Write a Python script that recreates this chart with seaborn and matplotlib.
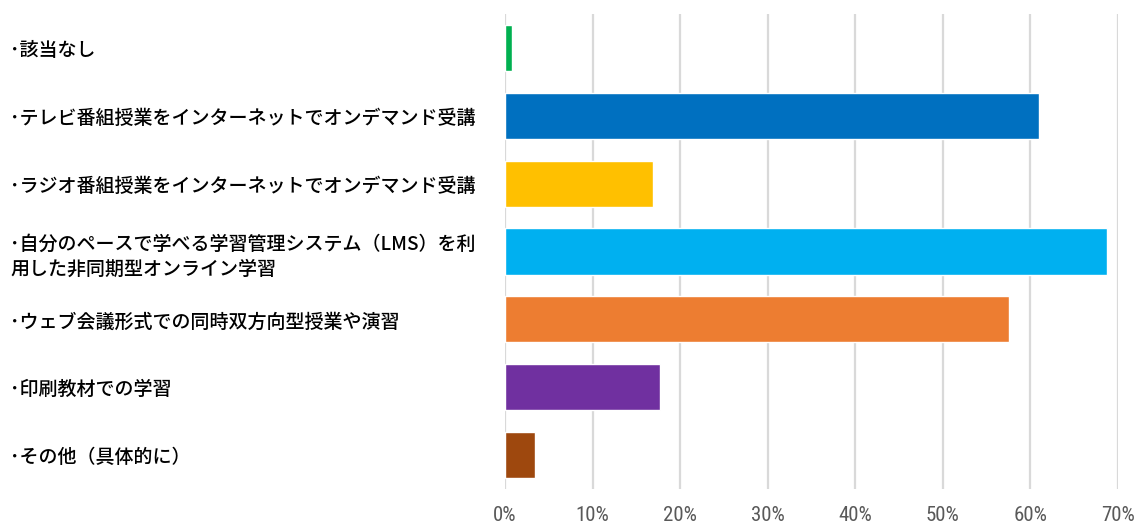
import matplotlib
matplotlib.use("Agg")
import matplotlib.pyplot as plt
import seaborn as sns
import pandas as pd
from matplotlib.ticker import FuncFormatter

categories = [
    "･該当なし",
    "･テレビ番組授業をインターネットでオンデマンド受講",
    "･ラジオ番組授業をインターネットでオンデマンド受講",
    "･自分のペースで学べる学習管理システム（LMS）を利\n用した非同期型オンライン学習",
    "･ウェブ会議形式での同時双方向型授業や演習",
    "･印刷教材での学習",
    "･その他（具体的に）",
]
values = [0.8, 61.0, 16.9, 68.7, 57.6, 17.7, 3.4]
colors = ["#00B050", "#0070C0", "#FFC000", "#00B0F0", "#ED7D31", "#7030A0", "#9E480E"]
xticks = [0, 10, 20, 30, 40, 50, 60, 70]

sns.set_style("white")
plt.rcParams["font.family"] = ["Noto Sans CJK JP", "DejaVu Sans"]

df = pd.DataFrame({"cat": categories, "val": values})

W, H, DPI = 1139, 527, 100
fig = plt.figure(figsize=(W / DPI, H / DPI), dpi=DPI)
ax = fig.add_axes([505 / W, 1 - 489 / H, (1118 - 505) / W, (489 - 14) / H])

sns.barplot(data=df, x="val", y="cat", hue="cat", palette=colors, legend=False,
            width=0.68, orient="h", ax=ax, saturation=1, zorder=3)

ax.set_xlim(0, 70)
ax.set_ylim(len(categories) - 0.5, -0.5)
ax.set_xticks(xticks)
ax.xaxis.set_major_formatter(FuncFormatter(lambda v, p: f"{int(v)}%"))
ax.grid(axis="x", color="#D9D9D9", linewidth=1.6, zorder=0)
ax.grid(axis="y", visible=False)
ax.set_axisbelow(True)
for s in ax.spines.values():
    s.set_visible(False)
ax.set_xlabel("")
ax.set_ylabel("")

ax.tick_params(axis="x", length=0, pad=12, labelsize=15, labelcolor="#595959")
ax.tick_params(axis="y", length=0, labelsize=13.7, labelcolor="#000000")
for lbl in ax.get_xticklabels():
    lbl.set_family(["Roboto Condensed", "Liberation Sans Narrow", "Roboto", "DejaVu Sans"])
    lbl.set_fontstretch("condensed")
pad_pt = (505 - 10) * 72 / DPI
ax.tick_params(axis="y", pad=pad_pt)
for lbl in ax.get_yticklabels():
    lbl.set_horizontalalignment("left")
    lbl.set_linespacing(1.3)
    lbl.set_fontweight("medium")

fig.savefig("out.png", dpi=DPI)
